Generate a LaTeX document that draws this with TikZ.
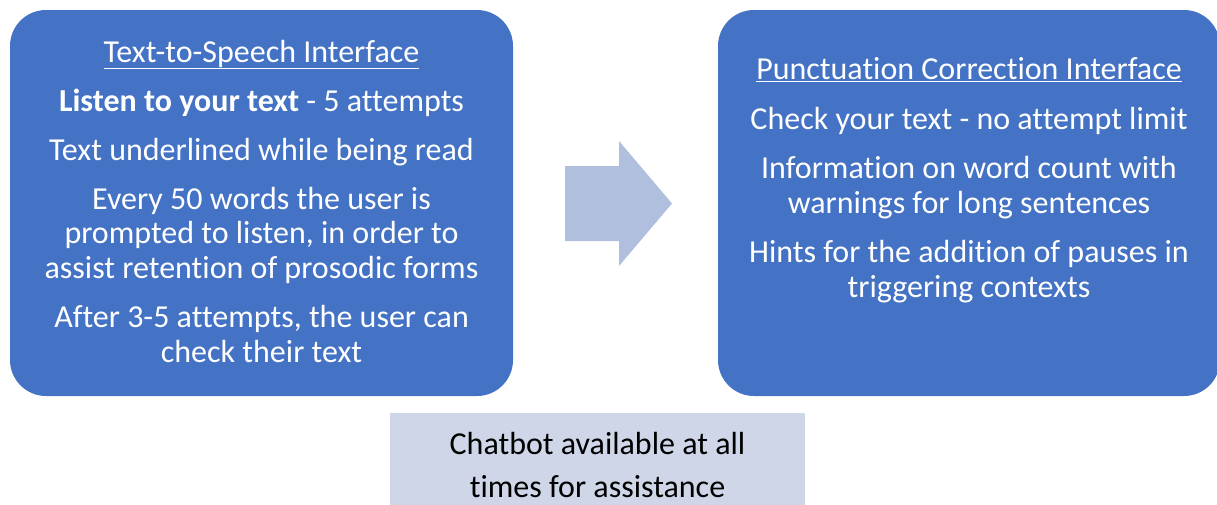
\documentclass[tikz,border=0pt]{standalone}
\usepackage{fontspec}
\setmainfont{Carlito}[Ligatures={TeX,NoCommon,NoContextual}]
\definecolor{boxblue}{HTML}{4472C4}
\definecolor{arrowblue}{HTML}{B1BFDF}
\definecolor{chatgrey}{HTML}{CFD6E7}
\tikzset{
  bluebox/.style={fill=boxblue, draw=none, rounded corners=36pt, inner sep=0pt},
  chatbox/.style={fill=chatgrey, draw=none, inner sep=0pt},
  boxtext/.style={text=white, align=center, anchor=base, inner sep=0pt,
    font=\fontsize{32}{34.5}\selectfont},
  chattext/.style={text=black, align=center, anchor=base, inner sep=0pt,
    font=\fontsize{32}{43}\selectfont},
}
\begin{document}
\begin{tikzpicture}[x=1pt,y=-1pt]
\useasboundingbox (0,0) rectangle (1217,504);
% boxes
\node[bluebox, minimum width=503pt, minimum height=386pt] (tts) at (261.5,203) {};
\node[bluebox, minimum width=502pt, minimum height=386pt] (pci) at (969,203) {};
\node[chatbox, minimum width=415pt, minimum height=107pt] (chat) at (597.5,466.5) {};
% arrow
\fill[arrowblue] (565,166) -- (619,166) -- (619,141) -- (672,203.5) -- (619,266) -- (619,241) -- (565,241) -- cycle;
% texts (anchored at the baseline of the last line)
\node[boxtext] (ttstext) at (261.5,362) {\underline{Text-to-Speech Interface}\\[14.6pt]
\textbf{Listen to your text} - 5 attempts\\[14.6pt]
Text underlined while being read\\[14.6pt]
Every 50 words the user is\\ prompted to listen, in order to\\ assist retention of prosodic forms\\[14.6pt]
After 3-5 attempts, the user can\\ check their text};
\node[boxtext] (pcitext) at (969,297) {\underline{Punctuation Correction Interface}\\[15pt]
Check your text - no attempt limit\\[15pt]
Information on word count with\\ warnings for long sentences\\[15pt]
Hints for the addition of pauses in\\ triggering contexts};
\node[chattext] (chattxt) at (597.5,497) {Chatbot available at all\\ times for assistance};
\end{tikzpicture}
\end{document}
